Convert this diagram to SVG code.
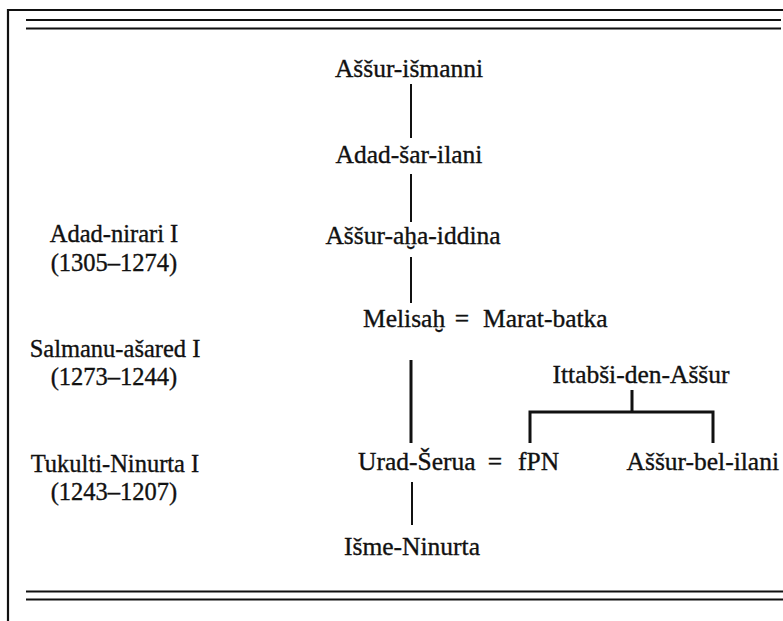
<svg xmlns="http://www.w3.org/2000/svg" width="783" height="621" viewBox="0 0 783 621">
  <style>
    text { font-family: "Liberation Serif", "Times New Roman", serif; font-size: 25.5px; fill: #111; stroke: #111; stroke-width: 0.35; }
    .reign { font-size: 24.5px; }
    .mid { text-anchor: middle; }
    .end { text-anchor: end; }
    .rule { stroke: #111; stroke-width: 2.2; fill: none; }
    .link { stroke: #111; stroke-width: 2; fill: none; }
    .thick { stroke: #111; stroke-width: 3; fill: none; }
  </style>
  <rect width="783" height="621" fill="#fff"/>

  <!-- frame and double rules -->
  <g id="frame">
    <path class="rule" d="M8 621 V10 H783"/>
    <path class="rule" d="M26 20 H781 M26 28.5 H781"/>
    <path class="rule" d="M26 591.5 H783 M26 599.5 H783"/>
  </g>

  <!-- reign column -->
  <g id="reign-adad-nirari">
    <text class="mid reign" x="114" y="242">Adad-nirari I</text>
    <text class="mid reign" x="114" y="271">(1305–1274)</text>
  </g>
  <g id="reign-salmanu-asared">
    <text class="mid reign" x="115" y="357">Salmanu-ašared I</text>
    <text class="mid reign" x="114" y="385">(1273–1244)</text>
  </g>
  <g id="reign-tukulti-ninurta">
    <text class="mid reign" x="115" y="472">Tukulti-Ninurta I</text>
    <text class="mid reign" x="114" y="500">(1243–1207)</text>
  </g>

  <!-- connectors -->
  <g id="connectors">
    <line class="link" x1="411" y1="84" x2="411" y2="138"/>
    <line class="link" x1="411" y1="174" x2="411" y2="222"/>
    <line class="link" x1="411" y1="257" x2="411" y2="303"/>
    <line class="thick" x1="411" y1="360" x2="411" y2="443"/>
    <path class="thick" d="M632 390 V412 M530 443 V412 H713 V443" stroke-width="2.6"/>
    <line class="link" x1="412" y1="482" x2="412" y2="525"/>
  </g>

  <!-- persons -->
  <g id="assur-ismanni"><text class="mid" x="409" y="77">Aššur-išmanni</text></g>
  <g id="adad-sar-ilani"><text class="mid" x="409" y="163">Adad-šar-ilani</text></g>
  <g id="assur-aha-iddina"><text class="mid" x="413" y="244">Aššur-aḫa-iddina</text></g>
  <g id="melisah-marat-batka">
    <text x="363" y="327">Melisaḫ</text>
    <text class="mid" x="462" y="327">=</text>
    <text x="483" y="327">Marat-batka</text>
  </g>
  <g id="ittabsi-den-assur"><text class="mid" x="641" y="383">Ittabši-den-Aššur</text></g>
  <g id="urad-serua-fpn">
    <text x="358" y="470">Urad-Šerua</text>
    <text class="mid" x="495" y="470">=</text>
    <text x="518" y="470">fPN</text>
  </g>
  <g id="assur-bel-ilani"><text class="end" x="779" y="470">Aššur-bel-ilani</text></g>
  <g id="isme-ninurta"><text class="mid" x="412" y="555">Išme-Ninurta</text></g>
</svg>
